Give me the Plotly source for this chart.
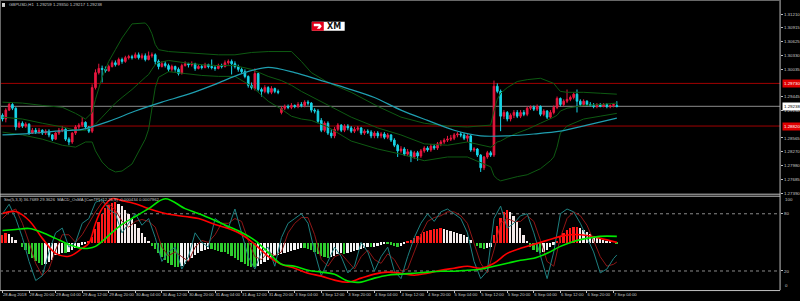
import plotly.graph_objects as go

# ---------------- data (GBPUSD H1) ----------------
bar_open = [
    1.2905, 1.2897, 1.2916, 1.2928, 1.2920, 1.2880, 1.2888, 1.2882, 1.2886, 1.2867,
    1.2873, 1.2869, 1.2873, 1.2867, 1.2871, 1.2863, 1.2854, 1.2867, 1.2873, 1.2875,
    1.2854, 1.2848, 1.2867, 1.2880, 1.2884, 1.2890, 1.2880, 1.2871, 1.2964, 1.2996,
    1.3005, 1.3003, 1.3000, 1.3009, 1.3017, 1.3013, 1.3024, 1.3020, 1.3028, 1.3030,
    1.3028, 1.3034, 1.3028, 1.3032, 1.3024, 1.3032, 1.3034, 1.3020, 1.3009, 1.3015,
    1.3011, 1.3003, 1.3009, 1.3003, 1.2994, 1.3011, 1.3015, 1.3013, 1.3015, 1.3005,
    1.3009, 1.3007, 1.3013, 1.3009, 1.3007, 1.3005, 1.3011, 1.3009, 1.3017, 1.3020,
    1.3015, 1.3009, 1.3003, 1.2998, 1.2988, 1.2969, 1.2962, 1.2994, 1.2960, 1.2956,
    1.2964, 1.2954, 1.2962, 1.2956, 1.2911, 1.2920, 1.2924, 1.2922, 1.2926, 1.2924,
    1.2928, 1.2926, 1.2933, 1.2931, 1.2916, 1.2914, 1.2894, 1.2873, 1.2888, 1.2867,
    1.2861, 1.2875, 1.2884, 1.2873, 1.2882, 1.2878, 1.2871, 1.2875, 1.2878, 1.2867,
    1.2871, 1.2869, 1.2861, 1.2867, 1.2861, 1.2865, 1.2858, 1.2863, 1.2852, 1.2841,
    1.2829, 1.2833, 1.2822, 1.2827, 1.2816, 1.2825, 1.2818, 1.2829, 1.2835, 1.2831,
    1.2839, 1.2835, 1.2844, 1.2848, 1.2852, 1.2854, 1.2856, 1.2863, 1.2865, 1.2863,
    1.2856, 1.2861, 1.2831, 1.2833, 1.2820, 1.2793, 1.2816, 1.2825, 1.2820, 1.2967,
    1.2956, 1.2903, 1.2911, 1.2897, 1.2905, 1.2911, 1.2903, 1.2911, 1.2907, 1.2920,
    1.2922, 1.2918, 1.2924, 1.2907, 1.2914, 1.2901, 1.2911, 1.2922, 1.2941, 1.2928,
    1.2935, 1.2939, 1.2943, 1.2950, 1.2935, 1.2928, 1.2935, 1.2928, 1.2926, 1.2924,
    1.2928, 1.2924, 1.2928, 1.2924, 1.2926, 1.29259,
]
bar_high = [
    1.2909, 1.2920, 1.2933, 1.2931, 1.2922, 1.2892, 1.2892, 1.2890, 1.2888, 1.2878,
    1.2878, 1.2878, 1.2875, 1.2875, 1.2875, 1.2865, 1.2869, 1.2878, 1.2882, 1.2878,
    1.2858, 1.2869, 1.2884, 1.2888, 1.2901, 1.2892, 1.2882, 1.2971, 1.3003, 1.3015,
    1.3011, 1.3009, 1.3013, 1.3022, 1.3022, 1.3028, 1.3028, 1.3032, 1.3034, 1.3034,
    1.3039, 1.3039, 1.3037, 1.3037, 1.3041, 1.3039, 1.3037, 1.3024, 1.3020, 1.3020,
    1.3015, 1.3013, 1.3011, 1.3007, 1.3015, 1.3020, 1.3017, 1.3020, 1.3017, 1.3013,
    1.3013, 1.3017, 1.3015, 1.3024, 1.3011, 1.3015, 1.3015, 1.3022, 1.3024, 1.3024,
    1.3020, 1.3013, 1.3007, 1.3003, 1.2990, 1.2975, 1.3005, 1.2996, 1.2964, 1.2969,
    1.2967, 1.2967, 1.2964, 1.2960, 1.2924, 1.2928, 1.2928, 1.2931, 1.2928, 1.2933,
    1.2933, 1.2937, 1.2937, 1.2933, 1.2920, 1.2918, 1.2899, 1.2892, 1.2892, 1.2875,
    1.2880, 1.2888, 1.2886, 1.2886, 1.2886, 1.2882, 1.2880, 1.2882, 1.2880, 1.2875,
    1.2875, 1.2873, 1.2871, 1.2871, 1.2869, 1.2869, 1.2867, 1.2865, 1.2856, 1.2844,
    1.2839, 1.2837, 1.2833, 1.2831, 1.2829, 1.2829, 1.2833, 1.2839, 1.2839, 1.2844,
    1.2844, 1.2848, 1.2852, 1.2856, 1.2861, 1.2863, 1.2867, 1.2869, 1.2869, 1.2867,
    1.2865, 1.2863, 1.2837, 1.2835, 1.2822, 1.2818, 1.2829, 1.2829, 1.2979, 1.2973,
    1.2960, 1.2916, 1.2914, 1.2909, 1.2916, 1.2916, 1.2916, 1.2916, 1.2924, 1.2926,
    1.2926, 1.2928, 1.2926, 1.2918, 1.2916, 1.2916, 1.2926, 1.2945, 1.2943, 1.2939,
    1.2960, 1.2947, 1.2954, 1.2960, 1.2939, 1.2939, 1.2937, 1.2933, 1.2931, 1.2931,
    1.2931, 1.2931, 1.2931, 1.2928, 1.2931, 1.29350,
]
bar_low = [
    1.2892, 1.2890, 1.2914, 1.2916, 1.2873, 1.2878, 1.2878, 1.2878, 1.2863, 1.2865,
    1.2865, 1.2865, 1.2863, 1.2863, 1.2858, 1.2850, 1.2852, 1.2863, 1.2869, 1.2850,
    1.2841, 1.2844, 1.2863, 1.2875, 1.2880, 1.2875, 1.2867, 1.2867, 1.2960, 1.2992,
    1.2975, 1.2996, 1.2998, 1.3007, 1.3009, 1.3011, 1.3015, 1.3017, 1.3024, 1.3024,
    1.3026, 1.3024, 1.3024, 1.3020, 1.3022, 1.3028, 1.3013, 1.3003, 1.3007, 1.3007,
    1.2998, 1.2998, 1.2998, 1.2990, 1.2992, 1.3009, 1.3007, 1.3009, 1.3000, 1.3003,
    1.3003, 1.3005, 1.3005, 1.3003, 1.3000, 1.3003, 1.3005, 1.3007, 1.3013, 1.2992,
    1.3005, 1.2998, 1.2994, 1.2984, 1.2964, 1.2960, 1.2958, 1.2956, 1.2945, 1.2952,
    1.2950, 1.2950, 1.2952, 1.2950, 1.2907, 1.2916, 1.2918, 1.2918, 1.2920, 1.2920,
    1.2922, 1.2922, 1.2926, 1.2911, 1.2909, 1.2888, 1.2869, 1.2869, 1.2863, 1.2856,
    1.2856, 1.2871, 1.2869, 1.2869, 1.2873, 1.2867, 1.2867, 1.2871, 1.2863, 1.2863,
    1.2865, 1.2856, 1.2856, 1.2856, 1.2856, 1.2854, 1.2854, 1.2848, 1.2837, 1.2816,
    1.2825, 1.2818, 1.2818, 1.2805, 1.2812, 1.2808, 1.2814, 1.2825, 1.2827, 1.2827,
    1.2831, 1.2831, 1.2839, 1.2844, 1.2848, 1.2850, 1.2852, 1.2858, 1.2858, 1.2852,
    1.2848, 1.2827, 1.2827, 1.2816, 1.2784, 1.2788, 1.2812, 1.2816, 1.2816, 1.2952,
    1.2871, 1.2897, 1.2892, 1.2892, 1.2899, 1.2899, 1.2899, 1.2903, 1.2903, 1.2916,
    1.2914, 1.2914, 1.2903, 1.2903, 1.2897, 1.2897, 1.2907, 1.2918, 1.2924, 1.2924,
    1.2931, 1.2935, 1.2939, 1.2911, 1.2924, 1.2924, 1.2924, 1.2924, 1.2920, 1.2920,
    1.2922, 1.2922, 1.2920, 1.2920, 1.2922, 1.29217,
]
bar_close = [
    1.2897, 1.2916, 1.2928, 1.2920, 1.2880, 1.2888, 1.2882, 1.2886, 1.2867, 1.2873,
    1.2869, 1.2873, 1.2867, 1.2871, 1.2863, 1.2854, 1.2867, 1.2873, 1.2875, 1.2854,
    1.2848, 1.2867, 1.2880, 1.2884, 1.2890, 1.2880, 1.2871, 1.2964, 1.2996, 1.3005,
    1.3003, 1.3000, 1.3009, 1.3017, 1.3013, 1.3024, 1.3020, 1.3028, 1.3030, 1.3028,
    1.3034, 1.3028, 1.3032, 1.3024, 1.3032, 1.3034, 1.3020, 1.3009, 1.3015, 1.3011,
    1.3003, 1.3009, 1.3003, 1.2994, 1.3011, 1.3015, 1.3013, 1.3015, 1.3005, 1.3009,
    1.3007, 1.3013, 1.3009, 1.3007, 1.3005, 1.3011, 1.3009, 1.3017, 1.3020, 1.3015,
    1.3009, 1.3003, 1.2998, 1.2988, 1.2969, 1.2964, 1.2994, 1.2960, 1.2956, 1.2964,
    1.2954, 1.2962, 1.2956, 1.2954, 1.2920, 1.2924, 1.2922, 1.2926, 1.2924, 1.2928,
    1.2926, 1.2933, 1.2931, 1.2916, 1.2914, 1.2892, 1.2873, 1.2888, 1.2867, 1.2861,
    1.2875, 1.2884, 1.2873, 1.2882, 1.2878, 1.2871, 1.2875, 1.2878, 1.2867, 1.2871,
    1.2869, 1.2861, 1.2867, 1.2861, 1.2865, 1.2858, 1.2863, 1.2852, 1.2841, 1.2829,
    1.2833, 1.2822, 1.2827, 1.2816, 1.2825, 1.2818, 1.2829, 1.2835, 1.2831, 1.2839,
    1.2835, 1.2844, 1.2848, 1.2852, 1.2854, 1.2856, 1.2863, 1.2865, 1.2863, 1.2856,
    1.2861, 1.2831, 1.2833, 1.2820, 1.2793, 1.2816, 1.2825, 1.2820, 1.2967, 1.2956,
    1.2903, 1.2911, 1.2897, 1.2905, 1.2911, 1.2903, 1.2911, 1.2907, 1.2920, 1.2922,
    1.2918, 1.2924, 1.2907, 1.2914, 1.2901, 1.2911, 1.2922, 1.2941, 1.2928, 1.2935,
    1.2939, 1.2943, 1.2950, 1.2935, 1.2928, 1.2935, 1.2928, 1.2926, 1.2924, 1.2928,
    1.2924, 1.2928, 1.2924, 1.2926, 1.2928, 1.29238,
]

# Bollinger bands (read at sampled bars)
bb_idx = [0, 6, 12, 18, 22, 25, 27, 28, 30, 32, 34, 36, 39, 43, 44, 45, 46, 47, 50, 55,
          60, 65, 70, 75, 80, 84, 87, 90, 93, 98, 105, 113, 120, 127, 134, 140, 145, 147, 148, 149,
          150, 152, 155, 158, 162, 165, 166, 167, 168, 170, 175, 180, 185]
bb_upper = [1.2933, 1.2931, 1.2926, 1.2922, 1.2909, 1.2897, 1.2911, 1.2939, 1.2986, 1.3020,
            1.3045, 1.3070, 1.3100, 1.3102, 1.3094, 1.3079, 1.3056, 1.3045, 1.3041, 1.3039,
            1.3037, 1.3034, 1.3034, 1.3039, 1.3041, 1.3041, 1.3041, 1.3020, 1.2996, 1.2975,
            1.2954, 1.2924, 1.2901, 1.2888, 1.2882, 1.2880, 1.2882, 1.2884, 1.2914, 1.2939,
            1.2952, 1.2964, 1.2977, 1.2981, 1.2984, 1.2977, 1.2973, 1.2964, 1.2956, 1.2954,
            1.2954, 1.2952, 1.2950]
bb_mid = [1.2901, 1.2897, 1.2888, 1.2880, 1.2873, 1.2873, 1.2880, 1.2886, 1.2901, 1.2916,
          1.2931, 1.2943, 1.2960, 1.2986, 1.2992, 1.3003, 1.3013, 1.3017, 1.3022, 1.3017,
          1.3013, 1.3011, 1.3011, 1.3003, 1.2988, 1.2979, 1.2969, 1.2956, 1.2945, 1.2926,
          1.2901, 1.2878, 1.2863, 1.2844, 1.2841, 1.2848, 1.2841, 1.2837, 1.2841, 1.2848,
          1.2850, 1.2858, 1.2867, 1.2875, 1.2888, 1.2897, 1.2901, 1.2905, 1.2914, 1.2920,
          1.2926, 1.2928, 1.2931]
bb_lower = [1.2869, 1.2863, 1.2854, 1.2841, 1.2837, 1.2848, 1.2848, 1.2829, 1.2805, 1.2791,
            1.2784, 1.2786, 1.2801, 1.2854, 1.2875, 1.2918, 1.2964, 1.2986, 1.2998, 1.2994,
            1.2990, 1.2988, 1.2988, 1.2967, 1.2935, 1.2918, 1.2903, 1.2897, 1.2894, 1.2880,
            1.2850, 1.2833, 1.2822, 1.2808, 1.2816, 1.2816, 1.2801, 1.2795, 1.2776, 1.2769,
            1.2765, 1.2769, 1.2774, 1.2778, 1.2791, 1.2808, 1.2816, 1.2837, 1.2867, 1.2882,
            1.2897, 1.2903, 1.2909]

# moving average (teal)
ma_idx = [0, 8, 16, 24, 32, 40, 48, 56, 64, 72, 80, 88, 96, 104, 112, 120, 128, 136, 144, 152,
          160, 168, 176, 185]
ma_vals = [1.2863, 1.2866, 1.2871, 1.2875, 1.2892, 1.2914, 1.2933, 1.2950, 1.2971, 1.2994,
           1.3007, 1.2996, 1.2979, 1.2962, 1.2943, 1.2916, 1.2894, 1.2873, 1.2861, 1.2861,
           1.2865, 1.2871, 1.2884, 1.2899]

# horizontal levels
level_high = 1.2973
level_low = 1.2882
bid_price = 1.29238

# lower window: Stochastic(5,3,3)
sto_k = [80, 90, 75, 55, 30, 10, 15, 40, 60, 65,
         45, 50, 70, 75, 92, 95, 85, 80, 60, 70,
         80, 68, 75, 55, 30, 40, 45, 22, 35, 60,
         50, 45, 75, 70, 65, 85, 60, 35, 22, 40,
         45, 25, 55, 70, 75, 80, 70, 40, 15, 30,
         45, 35, 18, 25, 50, 40, 20, 35, 45, 20,
         12, 35, 55, 70, 80, 72, 82, 85, 80, 75,
         60, 30, 12, 20, 75, 88, 65, 70, 78, 80,
         60, 35, 12, 40, 80, 85, 82, 70, 55, 40,
         18, 22, 33, 36.8]
sto_d = [75, 82, 85, 70, 50, 28, 15, 22, 42, 58,
         58, 50, 58, 70, 82, 92, 90, 84, 72, 66,
         72, 74, 72, 66, 45, 36, 40, 35, 30, 45,
         52, 50, 58, 70, 70, 75, 72, 52, 35, 32,
         40, 36, 40, 60, 70, 76, 76, 58, 32, 25,
         35, 38, 30, 22, 35, 42, 32, 28, 38, 32,
         20, 22, 40, 58, 72, 76, 78, 82, 82, 78,
         70, 50, 28, 18, 42, 70, 75, 72, 72, 78,
         72, 52, 30, 25, 55, 75, 82, 78, 68, 52,
         35, 25, 27, 29.4]

# MACD_OsMA [CanTP] lines (window scale)
macd_idx = [0, 4, 8, 12, 16, 20, 24, 26, 28, 30, 33, 36, 40, 44, 49, 55, 59, 64, 68, 72,
            76, 80, 84, 88, 92, 96, 100, 104, 108, 112, 116, 120, 124, 128, 132, 136, 140, 144, 148, 152,
            156, 160, 164, 168, 172, 176, 180, 185]
macd_red = [80.2, 82.3, 72.9, 54.2, 38.5, 35.4, 43.8, 49.0, 69.8, 85.4,
            95.8, 93.8, 90.6, 85.4, 80.2, 77.1, 75.0, 68.8, 64.6, 58.3,
            47.9, 35.4, 27.1, 22.9, 17.7, 14.6, 10.4, 8.3, 12.5, 16.7,
            18.8, 17.7, 15.6, 17.7, 20.8, 22.9, 25.0, 22.9, 28.1, 38.5,
            43.8, 47.9, 52.1, 56.3, 58.3, 57.3, 54.2, 50.0]
macd_green = [62.5, 63.5, 64.6, 60.4, 54.2, 47.9, 43.8, 43.8, 45.8, 51.0,
              60.4, 68.8, 77.1, 85.4, 95.8, 85.4, 80.2, 72.9, 66.7, 60.4,
              52.1, 39.6, 27.1, 25.0, 20.8, 18.8, 16.7, 9.4, 8.3, 12.5,
              15.6, 16.7, 17.7, 18.8, 19.8, 19.8, 20.8, 21.9, 25.0, 28.1,
              31.3, 33.3, 38.5, 45.8, 51.0, 54.2, 56.3, 56.3]
# OsMA histogram (per bar, relative to the window midline)
osma = [8, 10, 9, 6, 3, 0,
        -4, -8, -12, -16, -19, -21, -23, -22, -20, -18,
        -13, -12, -11, -11, -10, -8, -6, -4, -2, -1, 1,
        6, 14, 22, 30, 36, 40, 42, 43, 41,
        38, 34, 30, 25, 20, 15, 10, 6,
        2, -3, -7, -11, -15, -18, -21, -23, -25, -25, -24, -22, -19, -16, -13,
        -11, -9, -8, -7, -7, -8, -9, -10,
        -10, -12, -14, -16, -18, -20, -22, -24, -25, -25, -24, -22, -20, -18, -16, -14, -13,
        -12, -11, -10, -9, -8, -7, -6, -6, -7, -8, -10, -12, -14,
        -15, -16, -15, -14, -12, -11, -12, -11, -10, -9, -8, -7, -6, -5,
        -5, -4, -3, -2, -1, -1, -2, -3, -4, -3, -1, 1, 3, 5,
        7, 9, 11, 12, 13, 14, 14, 15, 14, 13, 12, 11, 10, 9, 8, 6,
        3, 0, -3, -6, -7, -6, -5,
        8, 18, 26, 32, 34, 32, 28, 22, 15, 8, 2, -4, -8, -10, -11, -10, -8, -5, -2,
        2, 6, 10, 13, 15, 16, 16, 15, 13, 11, 9, 7, 5, 4, 3, 2, 1, 0, -1]

# axis labels
time_tick_idx = list(range(0, 185, 8))
time_tick_lab = ["28 Aug 2018", "28 Aug 20:00", "29 Aug 04:00", "29 Aug 12:00", "29 Aug 20:00",
                 "30 Aug 04:00", "30 Aug 12:00", "30 Aug 20:00", "31 Aug 04:00", "31 Aug 12:00",
                 "31 Aug 20:00", "3 Sep 04:00", "3 Sep 12:00", "3 Sep 20:00", "4 Sep 04:00",
                 "4 Sep 12:00", "4 Sep 20:00", "5 Sep 04:00", "5 Sep 12:00", "5 Sep 20:00",
                 "6 Sep 04:00", "6 Sep 12:00", "6 Sep 20:00", "7 Sep 04:00"]
price_ticks = [1.31210, 1.30915, 1.30625, 1.30330, 1.30035, 1.29445, 1.29150,
               1.28565, 1.28270, 1.27980, 1.27685, 1.27390]
osc_ticks = [20, 80]
osc_edge_ticks = [0, 100]

# ---------------- styling ----------------
BG = "#000000"
TXT = "#c8c8c8"
AXC = "#c0c0c0"
RED = "#e8173f"
CYAN = "#17d4e6"
BB_C = "#0e5a12"
MA_C = "#1f9fb0"
FONT = "Liberation Sans"
X_END = 783 / 800
W, H = 800, 301

bar_idx = list(range(len(bar_close)))
sto_idx = list(range(0, 185, 2)) + [185]

fig = go.Figure()

for band in (bb_upper, bb_mid, bb_lower):
    fig.add_trace(go.Scatter(x=bb_idx, y=band, mode="lines", line=dict(color=BB_C, width=1),
                             xaxis="x", yaxis="y", hoverinfo="skip"))
fig.add_trace(go.Scatter(x=ma_idx, y=ma_vals, mode="lines",
                         line=dict(color=MA_C, width=1.2, shape="spline", smoothing=0.8),
                         xaxis="x", yaxis="y", hoverinfo="skip"))
fig.add_trace(go.Candlestick(
    x=bar_idx, open=bar_open, high=bar_high, low=bar_low, close=bar_close,
    increasing=dict(line=dict(color=RED, width=1), fillcolor=RED),
    decreasing=dict(line=dict(color=CYAN, width=1), fillcolor=CYAN),
    whiskerwidth=0, xaxis="x", yaxis="y", hoverinfo="skip"))

hist_colors = []
prev = 0
for v in osma:
    if v > 0:
        hist_colors.append("#ff1a1a" if v >= prev else "#f4eaea")
    else:
        hist_colors.append("#2ecc2e" if v <= prev else "#f4f4f4")
    prev = v

fig.add_trace(go.Bar(x=bar_idx, y=osma, base=50, marker=dict(color=hist_colors, line=dict(width=0)),
                     width=0.55, xaxis="x2", yaxis="y2", hoverinfo="skip"))
fig.add_trace(go.Scatter(x=sto_idx, y=sto_d, mode="lines", line=dict(color="#8e1616", width=1),
                         xaxis="x2", yaxis="y2", hoverinfo="skip"))
fig.add_trace(go.Scatter(x=sto_idx, y=sto_k, mode="lines", line=dict(color="#1e8080", width=1),
                         xaxis="x2", yaxis="y2", hoverinfo="skip"))
fig.add_trace(go.Scatter(x=macd_idx, y=macd_red, mode="lines",
                         line=dict(color="#ff0000", width=1.6, shape="spline"),
                         xaxis="x2", yaxis="y2", hoverinfo="skip"))
fig.add_trace(go.Scatter(x=macd_idx, y=macd_green, mode="lines",
                         line=dict(color="#00e600", width=1.6, shape="spline"),
                         xaxis="x2", yaxis="y2", hoverinfo="skip"))


def py(p):
    return 1 - p / H


xr = [-0.75, 234.15]
fig.update_layout(
    width=W, height=H, margin=dict(l=0, r=0, t=0, b=0),
    paper_bgcolor=BG, plot_bgcolor=BG, showlegend=False,
    font=dict(family=FONT, color=TXT, size=5),
    bargap=0,
    xaxis=dict(domain=[0, X_END], range=xr, anchor="y", showticklabels=False, showgrid=False,
               zeroline=False, showline=False, rangeslider=dict(visible=False), ticks=""),
    xaxis2=dict(domain=[0, X_END], range=xr, anchor="y2", matches="x", tickvals=time_tick_idx,
                ticktext=time_tick_lab, ticklabelposition="outside right", tickangle=0,
                tickfont=dict(size=4.2, color=TXT, family=FONT), ticks="outside", ticklen=2,
                tickcolor=AXC, showgrid=False, zeroline=False, showline=False),
    yaxis=dict(domain=[py(195), 1], range=[1.27376, 1.3151], side="right", anchor="x",
               tickvals=price_ticks, ticktext=[f"{v:.5f}" for v in price_ticks],
               tickfont=dict(size=4.4, color=TXT, family=FONT), ticks="outside", ticklen=2,
               tickcolor=AXC, showgrid=False, zeroline=False, showline=False),
    yaxis2=dict(domain=[py(292), py(196)], range=[0, 100], side="right", anchor="x2",
                tickvals=osc_ticks, ticktext=[str(v) for v in osc_ticks],
                tickfont=dict(size=4.4, color=TXT, family=FONT), ticks="outside", ticklen=2,
                tickcolor=AXC, showgrid=False, zeroline=False, showline=False),
)

shapes = []
# frame lines
shapes.append(dict(type="line", xref="paper", yref="paper", x0=X_END, x1=X_END, y0=py(292), y1=1,
                   line=dict(color=AXC, width=1)))
shapes.append(dict(type="line", xref="paper", yref="paper", x0=0, x1=X_END, y0=py(0.5), y1=py(0.5),
                   line=dict(color="#6a6a6a", width=1)))
shapes.append(dict(type="line", xref="paper", yref="paper", x0=0.0006, x1=0.0006, y0=py(292), y1=1,
                   line=dict(color="#6a6a6a", width=1)))
for yy in (195.5, 197.5):
    shapes.append(dict(type="line", xref="paper", yref="paper", x0=0, x1=X_END, y0=py(yy), y1=py(yy),
                       line=dict(color=AXC, width=1)))
shapes.append(dict(type="line", xref="paper", yref="paper", x0=0, x1=X_END, y0=py(292.5), y1=py(292.5),
                   line=dict(color=AXC, width=1)))
# price levels
for lv in (level_high, level_low):
    shapes.append(dict(type="line", xref="paper", yref="y", x0=0, x1=X_END, y0=lv, y1=lv,
                       line=dict(color="#a00000", width=1), layer="below"))
shapes.append(dict(type="line", xref="paper", yref="y", x0=0, x1=X_END, y0=bid_price, y1=bid_price,
                   line=dict(color="#707070", width=1.2), layer="below"))
# oscillator levels
for lv in osc_ticks:
    shapes.append(dict(type="line", xref="paper", yref="y2", x0=0, x1=X_END, y0=lv, y1=lv,
                       line=dict(color="#8a8a8a", width=1, dash="dot"), layer="below"))
# XM logo
shapes.append(dict(type="rect", xref="paper", yref="paper", x0=313 / W, x1=346 / W, y0=py(31), y1=py(22),
                   fillcolor="#ffffff", line=dict(width=0)))
shapes.append(dict(type="rect", xref="paper", yref="paper", x0=313 / W, x1=325 / W, y0=py(31), y1=py(22),
                   fillcolor="#e2001a", line=dict(width=0)))
shapes.append(dict(type="path", xref="paper", yref="paper",
                   path=f"M {315/W} {py(24)} L {321/W} {py(24)} L {323/W} {py(26.5)} L {321/W} {py(29)} "
                        f"L {318/W} {py(29)} L {320/W} {py(26.5)} L {315/W} {py(26.5)} Z",
                   fillcolor="#ffffff", line=dict(width=0)))
# header icon
shapes.append(dict(type="rect", xref="paper", yref="paper", x0=2 / W, x1=5 / W, y0=py(7), y1=py(3),
                   fillcolor="#d0d0d0", line=dict(width=0)))
fig.update_layout(shapes=shapes)

ann = []
ann.append(dict(xref="paper", yref="paper", x=7 / W, y=py(5), xanchor="left", yanchor="middle",
                text="GBPUSD,H1  1.29259 1.29350 1.29217 1.29238", showarrow=False,
                font=dict(size=4.3, color=TXT, family=FONT)))
ann.append(dict(xref="paper", yref="paper", x=2 / W, y=py(200.5), xanchor="left", yanchor="middle",
                text="Sto(5,3,3) 36.7689 29.3626  MACD_OsMA [CanTP] (12,26,9) -0.000434 0.0007962",
                showarrow=False, font=dict(size=4.2, color=TXT, family=FONT)))
ann.append(dict(xref="paper", yref="paper", x=335.5 / W, y=py(26.5), xanchor="center", yanchor="middle",
                text="<b>XM</b>", showarrow=False, font=dict(size=8, color="#111111", family="DejaVu Sans")))
for lv, txt in ((level_high, "1.29730"), (level_low, "1.28820")):
    ann.append(dict(xref="paper", yref="y", x=X_END + 0.002, y=lv, xanchor="left", yanchor="middle",
                    text=txt, showarrow=False, bgcolor="#e00000", borderpad=1,
                    font=dict(size=4.4, color="#ffffff", family=FONT)))
ann.append(dict(xref="paper", yref="y", x=X_END + 0.002, y=bid_price, xanchor="left", yanchor="middle",
                text="1.29238", showarrow=False, bgcolor="#ffffff", borderpad=1,
                font=dict(size=4.4, color="#000000", family=FONT)))
# 0 / 100 labels of the oscillator window, kept inside the window like the terminal does
ann.append(dict(xref="paper", yref="y2", x=X_END + 0.004, y=osc_edge_ticks[1], xanchor="left", yanchor="top",
                text=str(osc_edge_ticks[1]), showarrow=False, yshift=-0.5,
                font=dict(size=4.4, color=TXT, family=FONT)))
ann.append(dict(xref="paper", yref="y2", x=X_END + 0.004, y=osc_edge_ticks[0], xanchor="left", yanchor="bottom",
                text=str(osc_edge_ticks[0]), showarrow=False, yshift=0.5,
                font=dict(size=4.4, color=TXT, family=FONT)))
fig.update_layout(annotations=ann)

fig.write_html("out.html")
